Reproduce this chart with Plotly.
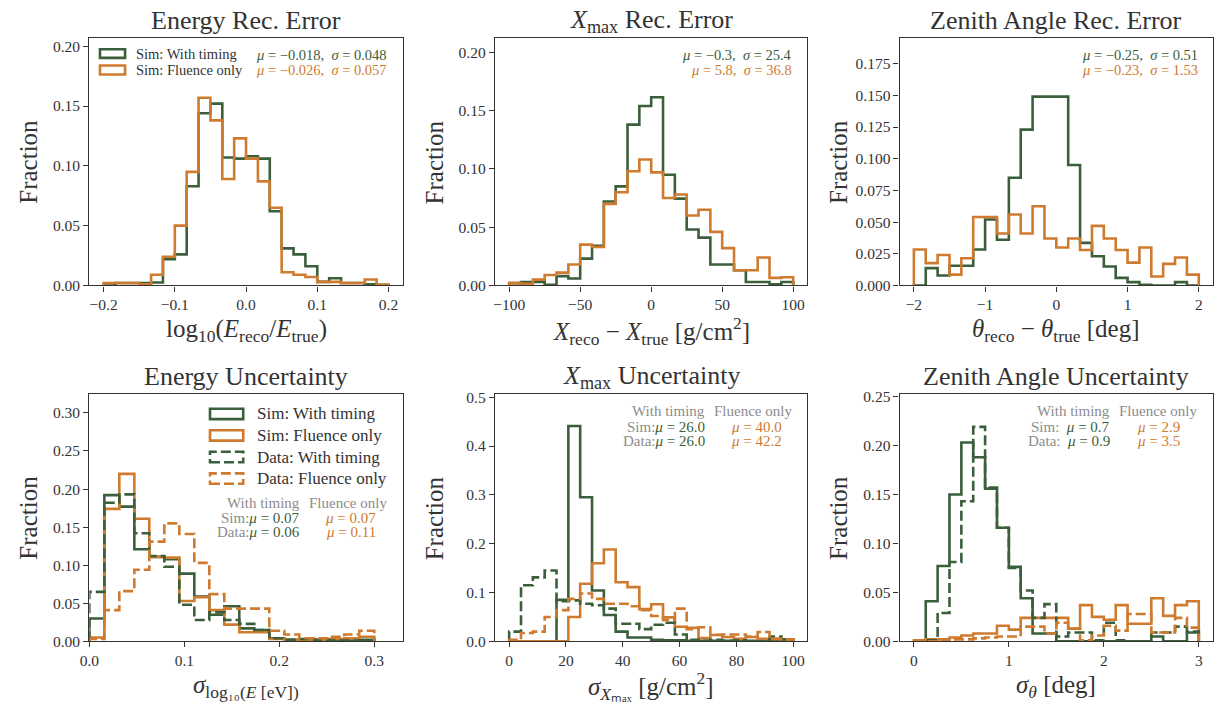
import numpy as np
import plotly.graph_objects as go

# ---------------- data ----------------
# Reconstruction errors (fraction of events per bin), 24 bins each
e_err_edges = np.linspace(-0.2, 0.2, 25)
e_err_timing = [0.0, 0.002, 0.002, 0.002, 0.0025, 0.022, 0.026, 0.083, 0.144, 0.152, 0.107, 0.106,
                0.108, 0.106, 0.062, 0.031, 0.026, 0.016, 0.003, 0.006, 0.002, 0.002, 0.001, 0.0005]
e_err_fluence = [0.002, 0.002, 0.002, 0.001, 0.009, 0.024, 0.050, 0.095, 0.157, 0.138, 0.089, 0.123,
                 0.106, 0.087, 0.065, 0.011, 0.009, 0.007, 0.003, 0.003, 0.002, 0.002, 0.005, 0.0005]

x_err_edges = np.linspace(-100, 100, 25)
x_err_timing = [0.002, 0.003, 0.003, 0.0005, 0.008, 0.006, 0.023, 0.034, 0.072, 0.085, 0.138, 0.154,
                0.1615, 0.095, 0.0745, 0.048, 0.041, 0.018, 0.018, 0.013, 0.003, 0.003, 0.001, 0.003]
x_err_fluence = [0.002, 0.0015, 0.005, 0.009, 0.011, 0.018, 0.035, 0.033, 0.070, 0.080, 0.098, 0.108,
                 0.097, 0.075, 0.078, 0.060, 0.065, 0.046, 0.032, 0.013, 0.013, 0.024, 0.0065, 0.007]

z_err_edges = np.linspace(-2, 2, 25)
z_err_timing = [0.0, 0.0137, 0.0078, 0.0155, 0.0155, 0.0284, 0.052, 0.036, 0.085, 0.123, 0.149, 0.149,
                0.149, 0.095, 0.0336, 0.023, 0.015, 0.006, 0.0026, 0.0005, 0.0, 0.0, 0.0026, 0.0]
z_err_fluence = [0.0284, 0.0176, 0.024, 0.0085, 0.0215, 0.054, 0.054, 0.041, 0.056, 0.041, 0.0625, 0.037,
                 0.030, 0.037, 0.028, 0.047, 0.037, 0.028, 0.018, 0.030, 0.007, 0.017, 0.022, 0.0085]

# Uncertainties: simulation and data, with timing / fluence only
e_unc_edges = np.linspace(0, 0.3, 20)
e_unc_sim_timing = [0.030, 0.192, 0.177, 0.121, 0.111, 0.108, 0.089, 0.059, 0.035, 0.046, 0.017, 0.015,
                    0.004, 0.002, 0.002, 0.001, 0.001, 0.001, 0.002]
e_unc_sim_fluence = [0.005, 0.174, 0.220, 0.161, 0.111, 0.110, 0.053, 0.058, 0.041, 0.022, 0.012, 0.012,
                     0.003, 0.002, 0.002, 0.002, 0.003, 0.004, 0.006]
e_unc_data_timing = [0.065, 0.182, 0.193, 0.142, 0.112, 0.098, 0.048, 0.028, 0.038, 0.028, 0.023, 0.015,
                     0.004, 0.002, 0.003, 0.002, 0.001, 0.001, 0.001]
e_unc_data_fluence = [0.003, 0.041, 0.066, 0.094, 0.131, 0.155, 0.141, 0.103, 0.062, 0.043, 0.043, 0.043,
                      0.014, 0.009, 0.004, 0.004, 0.006, 0.009, 0.014]

x_unc_edges = np.linspace(0, 100, 25)
x_unc_sim_timing = [0.0, 0.0, 0.0, 0.0, 0.085, 0.441, 0.295, 0.104, 0.054, 0.020, 0.008, 0.008,
                    0.003, 0.002, 0.002, 0.001, 0.001, 0.001, 0.001, 0.0, 0.001, 0.0, 0.0, 0.0]
x_unc_sim_fluence = [0.0, 0.0, 0.0, 0.0, 0.0, 0.050, 0.118, 0.160, 0.188, 0.121, 0.111, 0.066,
                     0.076, 0.049, 0.030, 0.028, 0.007, 0.013, 0.009, 0.005, 0.009, 0.005, 0.005, 0.004]
x_unc_data_timing = [0.020, 0.115, 0.131, 0.145, 0.082, 0.084, 0.077, 0.074, 0.067, 0.036, 0.036, 0.025,
                     0.034, 0.038, 0.014, 0.003, 0.001, 0.003, 0.001, 0.002, 0.0, 0.0, 0.010, 0.004]
x_unc_data_fluence = [0.003, 0.017, 0.020, 0.050, 0.064, 0.087, 0.098, 0.087, 0.077, 0.077, 0.072, 0.064,
                      0.052, 0.044, 0.067, 0.025, 0.029, 0.0135, 0.014, 0.014, 0.010, 0.019, 0.005, 0.004]

z_unc_edges = np.linspace(0, 3, 25)
z_unc_sim_timing = [0.0, 0.041, 0.077, 0.150, 0.203, 0.188, 0.156, 0.116, 0.076, 0.044, 0.008, 0.008,
                    0.0, 0.0, 0.0, 0.0, 0.0, 0.0, 0.0, 0.0, 0.005, 0.0, 0.0, 0.009]
z_unc_sim_fluence = [0.001, 0.002, 0.002, 0.004, 0.006, 0.008, 0.008, 0.016, 0.012, 0.024, 0.024, 0.024,
                     0.024, 0.013, 0.037, 0.025, 0.022, 0.037, 0.018, 0.018, 0.044, 0.026, 0.037, 0.041]
z_unc_data_timing = [0.0, 0.001, 0.029, 0.081, 0.143, 0.219, 0.157, 0.116, 0.075, 0.052, 0.024, 0.038,
                     0.005, 0.009, 0.009, 0.001, 0.019, 0.001, 0.0, 0.0, 0.009, 0.009, 0.015, 0.010]
z_unc_data_fluence = [0.0, 0.0, 0.001, 0.002, 0.002, 0.003, 0.004, 0.005, 0.005, 0.015, 0.015, 0.008,
                      0.019, 0.013, 0.001, 0.006, 0.016, 0.011, 0.028, 0.028, 0.009, 0.009, 0.024, 0.014]

# ---------------- style ----------------
GREEN = "#3b5e3b"
ORANGE = "#cf7b2f"
GRAY = "#8c8c8c"
AXC = "#333333"
FONT = "Liberation Serif"
LW = 2.6
DASH = "10px,4px"

W, H = 1217, 717

# axis boxes in pixels: (left, right, top, bottom)
boxes = [
    (80, 396, 33, 285), (489, 804, 33, 285), (897, 1213, 33, 285),
    (80, 396, 396, 648), (489, 804, 396, 648), (897, 1213, 396, 648),
]

panels = [
    dict(xr=[-0.22, 0.22], yr=[0, 0.2066], xt=[-0.2, -0.1, 0.0, 0.1, 0.2], xf=".1f",
         yt=[0, 0.05, 0.10, 0.15, 0.20], yf=".2f"),
    dict(xr=[-110, 110], yr=[0, 0.212], xt=[-100, -50, 0, 50, 100], xf="d",
         yt=[0, 0.05, 0.10, 0.15, 0.20], yf=".2f"),
    dict(xr=[-2.2, 2.2], yr=[0, 0.195], xt=[-2, -1, 0, 1, 2], xf="d",
         yt=[0, 0.025, 0.05, 0.075, 0.1, 0.125, 0.15, 0.175], yf=".3f"),
    dict(xr=[0, 0.33], yr=[0, 0.3245], xt=[0, 0.1, 0.2, 0.3], xf=".1f",
         yt=[0, 0.05, 0.10, 0.15, 0.20, 0.25, 0.30], yf=".2f"),
    dict(xr=[-5, 105], yr=[0, 0.506], xt=[0, 20, 40, 60, 80, 100], xf="d",
         yt=[0, 0.1, 0.2, 0.3, 0.4, 0.5], yf=".1f"),
    dict(xr=[-0.15, 3.15], yr=[0, 0.2523], xt=[0, 1, 2, 3], xf="d",
         yt=[0, 0.05, 0.10, 0.15, 0.20, 0.25], yf=".2f"),
]

titles = [
    "Energy Rec. Error",
    "<i>X</i><sub>max</sub> Rec. Error",
    "Zenith Angle Rec. Error",
    "Energy Uncertainty",
    "<i>X</i><sub>max</sub> Uncertainty",
    "Zenith Angle Uncertainty",
]
xlabels = [
    "log<sub>10</sub>(<i>E</i><sub>reco</sub>/<i>E</i><sub>true</sub>)",
    "<i>X</i><sub>reco</sub> − <i>X</i><sub>true</sub> [g/cm<sup>2</sup>]",
    "<i>θ</i><sub>reco</sub> − <i>θ</i><sub>true</sub> [deg]",
    "<i>σ</i><sub>log₁₀(<i>E</i> [eV])</sub>",
    "<i>σ</i><sub><i>X</i>ₘₐₓ</sub> [g/cm<sup>2</sup>]",
    "<i>σ</i><sub><i>θ</i></sub> [deg]",
]

fig = go.Figure()


def step(edges, values, color, dash, idx):
    x = np.concatenate([[edges[0]], edges])
    y = np.concatenate([[0.0], np.asarray(values, float), [0.0]])
    sfx = "" if idx == 1 else str(idx)
    fig.add_trace(go.Scatter(
        x=x, y=y, mode="lines", xaxis="x" + sfx, yaxis="y" + sfx,
        line=dict(shape="hv", color=color, width=LW, dash=dash),
        showlegend=False, hoverinfo="skip"))


step(e_err_edges, e_err_timing, GREEN, "solid", 1)
step(e_err_edges, e_err_fluence, ORANGE, "solid", 1)
step(x_err_edges, x_err_timing, GREEN, "solid", 2)
step(x_err_edges, x_err_fluence, ORANGE, "solid", 2)
step(z_err_edges, z_err_timing, GREEN, "solid", 3)
step(z_err_edges, z_err_fluence, ORANGE, "solid", 3)

for idx, edges, st, sf, dt, df in [
    (4, e_unc_edges, e_unc_sim_timing, e_unc_sim_fluence, e_unc_data_timing, e_unc_data_fluence),
    (5, x_unc_edges, x_unc_sim_timing, x_unc_sim_fluence, x_unc_data_timing, x_unc_data_fluence),
    (6, z_unc_edges, z_unc_sim_timing, z_unc_sim_fluence, z_unc_data_timing, z_unc_data_fluence),
]:
    step(edges, st, GREEN, "solid", idx)
    step(edges, sf, ORANGE, "solid", idx)
    step(edges, dt, GREEN, DASH, idx)
    step(edges, df, ORANGE, DASH, idx)

layout = dict(width=W, height=H, margin=dict(l=0, r=0, t=0, b=0),
              plot_bgcolor="white", paper_bgcolor="white", showlegend=False,
              font=dict(family=FONT, color=AXC))
annotations = []
shapes = []

for i, (box, p) in enumerate(zip(boxes, panels), 1):
    l, r, t, b = box
    sfx = "" if i == 1 else str(i)
    common = dict(showline=True, mirror=True, linecolor=AXC, linewidth=1.3,
                  ticks="outside", ticklen=5, tickwidth=1.2, tickcolor=AXC,
                  showgrid=False, zeroline=False,
                  tickfont=dict(family=FONT, size=15.5, color=AXC))
    layout["xaxis" + sfx] = dict(common, domain=[l / W, r / W], range=p["xr"],
                                 tickvals=p["xt"], tickformat=p["xf"], anchor="y" + sfx)
    layout["yaxis" + sfx] = dict(common, domain=[1 - b / H, 1 - t / H], range=p["yr"],
                                 tickvals=p["yt"], tickformat=p["yf"], anchor="x" + sfx)
    xd = ("x" if i == 1 else "x" + str(i)) + " domain"
    # panel title
    annotations.append(dict(text=titles[i - 1], xref=xd, x=0.5, yref="paper",
                            y=1 - (t - 18) / H, xanchor="center", yanchor="middle",
                            showarrow=False, font=dict(family=FONT, size=26, color=AXC)))
    # x label
    annotations.append(dict(text=xlabels[i - 1], xref=xd, x=0.5, yref="paper",
                            y=1 - (b + 46) / H, xanchor="center", yanchor="middle",
                            showarrow=False, font=dict(family=FONT, size=25, color=AXC)))
    # y label
    annotations.append(dict(text="Fraction", xref="paper", x=(l - 61) / W, yref="paper",
                            y=1 - (t + b) / 2 / H, xanchor="center", yanchor="middle",
                            textangle=-90, showarrow=False,
                            font=dict(family=FONT, size=25, color=AXC)))


def dom(i, fx, fy):
    sfx = "" if i == 1 else str(i)
    return ("x" + sfx + " domain", fx, "y" + sfx + " domain", fy)


def note(i, fx, fy, text, color, size, anchor="right"):
    xr, x, yr, y = dom(i, fx, fy)
    annotations.append(dict(text=text, xref=xr, x=x, yref=yr, y=y, xanchor=anchor,
                            yanchor="middle", showarrow=False,
                            font=dict(family=FONT, size=size, color=color)))


def key(i, fx0, fx1, fy0, fy1, color, dash):
    xr, _, yr, _ = dom(i, 0, 0)
    shapes.append(dict(type="rect", xref=xr, yref=yr, x0=fx0, x1=fx1, y0=fy0, y1=fy1,
                       line=dict(color=color, width=LW, dash=dash), fillcolor="rgba(0,0,0,0)"))


# legend of the energy error panel
key(1, 0.034, 0.114, 0.921, 0.956, GREEN, "solid")
key(1, 0.034, 0.114, 0.854, 0.890, ORANGE, "solid")
note(1, 0.142, 0.938, "Sim: With timing", AXC, 14.5, "left")
note(1, 0.142, 0.872, "Sim: Fluence only", AXC, 14.5, "left")

# mean / width of the reconstruction errors
stats = [
    (1, "<i>μ</i> = −0.018,  <i>σ</i> = 0.048", "<i>μ</i> = −0.026,  <i>σ</i> = 0.057"),
    (2, "<i>μ</i> = −0.3,  <i>σ</i> = 25.4", "<i>μ</i> = 5.8,  <i>σ</i> = 36.8"),
    (3, "<i>μ</i> = −0.25,  <i>σ</i> = 0.51", "<i>μ</i> = −0.23,  <i>σ</i> = 1.53"),
]
for i, g, o in stats:
    note(i, 0.957, 0.934, g, GREEN, 14.5)
    note(i, 0.957, 0.872, o, ORANGE, 14.5)

# legend of the energy uncertainty panel
leg4 = [("Sim: With timing", GREEN, "solid"), ("Sim: Fluence only", ORANGE, "solid"),
        ("Data: With timing", GREEN, DASH), ("Data: Fluence only", ORANGE, DASH)]
for k, (lab, c, d) in enumerate(leg4):
    yc = 0.9205 - k * 0.0872
    key(4, 0.385, 0.491, yc - 0.021, yc + 0.021, c, d)
    note(4, 0.528, yc, lab, AXC, 17, "left")

# mean uncertainty tables
tables = [
    (4, 0.560, 0.500, 0.441, 0.677, 0.956, 0.834,
     ("Sim:", "0.07", "0.07"), ("Data:", "0.06", "0.11")),
    (5, 0.931, 0.869, 0.812, 0.680, 0.958, 0.838,
     ("Sim:", "26.0", "40.0"), ("Data:", "26.0", "42.2")),
    (6, 0.931, 0.869, 0.812, 0.678, 0.956, 0.825,
     ("Sim:  ", "0.7", "2.9"), ("Data:  ", "0.9", "3.5")),
]
for i, yh, y1, y2, xw, xf, xo, row1, row2 in tables:
    note(i, xw, yh, "With timing", GRAY, 15)
    note(i, xf, yh, "Fluence only", GRAY, 15)
    for yy, (lab, g, o) in ((y1, row1), (y2, row2)):
        note(i, xw, yy, f"<span style='color:{GRAY}'>{lab}</span>"
                        f"<span style='color:{GREEN}'><i>μ</i> = {g}</span>", GREEN, 15)
        note(i, xo, yy, f"<i>μ</i> = {o}", ORANGE, 15, "center")

layout["annotations"] = annotations
layout["shapes"] = shapes
fig.update_layout(**layout)
fig.write_html("out.html")
